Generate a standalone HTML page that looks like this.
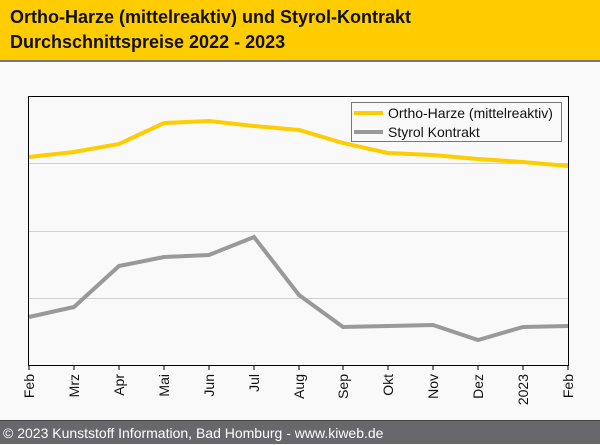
<!DOCTYPE html>
<html><head><meta charset="utf-8"><style>
html,body{margin:0;padding:0;}
body{width:600px;height:444px;background:#f9f9f9;position:relative;overflow:hidden;font-family:"Liberation Sans",sans-serif;}
#hd{position:absolute;left:0;top:0;width:600px;height:60px;background:#ffcc00;border-bottom:2px solid #777;}
#hd div{position:absolute;left:10px;font-weight:bold;font-size:18px;color:#111;}
#ft{position:absolute;left:0;top:420px;width:600px;height:24px;background:#68686c;color:#fff;font-size:14px;line-height:24px;padding-left:3px;box-sizing:border-box;border-top:1px solid #444;}
</style></head><body>
<div id="hd"><div style="top:7px">Ortho-Harze (mittelreaktiv) und Styrol-Kontrakt</div><div style="top:32px">Durchschnittspreise 2022 - 2023</div></div>
<svg width="600" height="444" style="position:absolute;left:0;top:0" font-family="Liberation Sans, sans-serif">
<rect x="0" y="62" width="600" height="358" fill="#f9f9f9"/>
<g stroke="#d0d0d0" stroke-width="1">
<line x1="29" y1="163.5" x2="568" y2="163.5"/><line x1="29" y1="231.5" x2="568" y2="231.5"/><line x1="29" y1="298.5" x2="568" y2="298.5"/>
</g>
<polyline fill="none" stroke="#ffcc00" stroke-width="4" points="29,157 74,152 119,144 164,123 209,121 254,126 299,130 343,143 388,153 433,155 478,159 523,162 568,166"/>
<polyline fill="none" stroke="#999" stroke-width="4" points="29,317 74,307 119,266 164,257 209,255 254,237 299,295 343,327 388,326 433,325 478,340 523,327 568,326"/>
<rect x="28.5" y="96.5" width="540" height="269" fill="none" stroke="#000" stroke-width="1"/>
<rect x="351.5" y="102.5" width="210" height="39" fill="#f9f9f9" stroke="#777"/>
<line x1="354" y1="113" x2="383" y2="113" stroke="#ffcc00" stroke-width="4"/>
<line x1="354" y1="132" x2="383" y2="132" stroke="#999" stroke-width="4"/>
<text x="388" y="118" font-size="14" fill="#111">Ortho-Harze (mittelreaktiv)</text>
<text x="388" y="137" font-size="14" fill="#111">Styrol Kontrakt</text>
<g font-size="14" fill="#111" text-anchor="end">
<g stroke="#000"><line x1="29" y1="366" x2="29" y2="370"/><line x1="74" y1="366" x2="74" y2="370"/><line x1="119" y1="366" x2="119" y2="370"/><line x1="164" y1="366" x2="164" y2="370"/><line x1="209" y1="366" x2="209" y2="370"/><line x1="254" y1="366" x2="254" y2="370"/><line x1="299" y1="366" x2="299" y2="370"/><line x1="343" y1="366" x2="343" y2="370"/><line x1="388" y1="366" x2="388" y2="370"/><line x1="433" y1="366" x2="433" y2="370"/><line x1="478" y1="366" x2="478" y2="370"/><line x1="523" y1="366" x2="523" y2="370"/><line x1="568" y1="366" x2="568" y2="370"/></g>
<text transform="translate(34,374) rotate(-90)">Feb</text>
<text transform="translate(79,374) rotate(-90)">Mrz</text>
<text transform="translate(124,374) rotate(-90)">Apr</text>
<text transform="translate(169,374) rotate(-90)">Mai</text>
<text transform="translate(214,374) rotate(-90)">Jun</text>
<text transform="translate(259,374) rotate(-90)">Jul</text>
<text transform="translate(304,374) rotate(-90)">Aug</text>
<text transform="translate(348,374) rotate(-90)">Sep</text>
<text transform="translate(393,374) rotate(-90)">Okt</text>
<text transform="translate(438,374) rotate(-90)">Nov</text>
<text transform="translate(483,374) rotate(-90)">Dez</text>
<text transform="translate(528,374) rotate(-90)">2023</text>
<text transform="translate(573,374) rotate(-90)">Feb</text>
</g>
</svg>
<div id="ft">© 2023 Kunststoff Information, Bad Homburg - www.kiweb.de</div>
</body></html>
